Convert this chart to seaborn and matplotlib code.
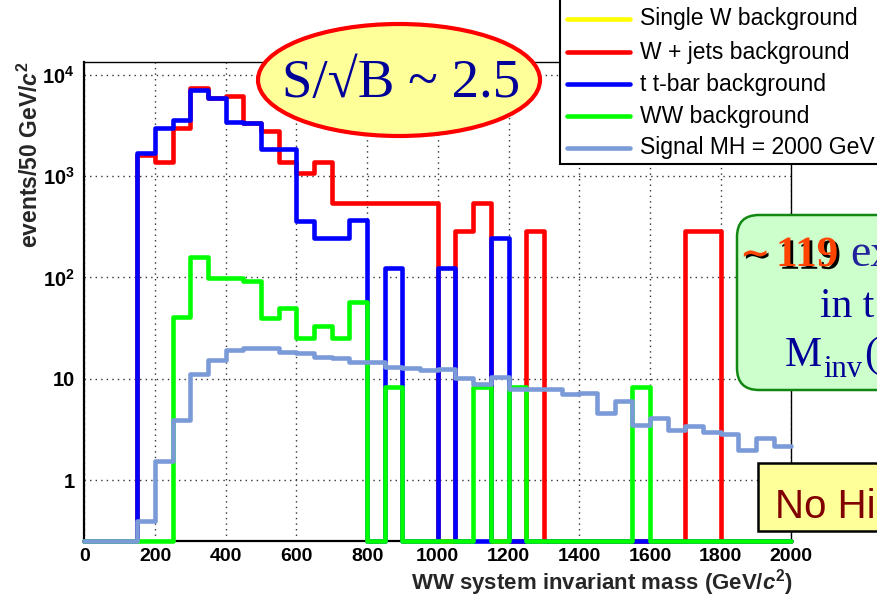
import numpy as np
import pandas as pd
import matplotlib
matplotlib.use("Agg")
import matplotlib.pyplot as plt
import matplotlib.transforms as mtransforms
import matplotlib.patheffects as pe
from matplotlib.patches import Ellipse, FancyBboxPatch, Rectangle
from matplotlib.lines import Line2D
from matplotlib.ticker import FixedLocator, FixedFormatter, NullFormatter
import seaborn as sns

# ---------------- data (events per 50 GeV bin, 0 .. 2000 GeV) ----------------
bin_edges = list(range(0, 2050, 50))

wjets = [0, 0, 0, 1600, 1390, 3000, 7360, 5900, 6170, 3350,
         2810, 1390, 1080, 1390, 547, 547, 547, 547, 547, 547,
         0, 287, 547, 0, 0, 287, 0, 0, 0, 0,
         0, 0, 0, 0, 287, 287, 0, 0, 0, 0]

ttbar = [0, 0, 0, 1680, 3000, 3580, 7080, 5860, 3400, 3320,
         1840, 1840, 360, 243, 243, 369, 0, 123, 0, 0,
         123, 0, 0, 246, 0, 0, 0, 0, 0, 0,
         0, 0, 0, 0, 0, 0, 0, 0, 0, 0]

ww = [0, 0, 0, 0, 0, 40.4, 158, 99.3, 99.3, 92,
      40, 49.5, 25, 33, 25, 57.5, 0, 8.3, 0, 0,
      0, 0, 8.3, 0, 8.3, 0, 0, 0, 0, 0,
      0, 8.3, 0, 0, 0, 0, 0, 0, 0, 0]

signal = [0, 0, 0, 0.39, 1.54, 3.91, 11.1, 15.3, 19.2, 20,
          20, 18.5, 17.8, 16.5, 15.9, 14.5, 14.5, 13.1, 12.7, 12.3,
          12.4, 10.1, 8.9, 10.5, 8.0, 7.9, 7.9, 7.0, 7.3, 4.55,
          6.0, 3.5, 4.1, 3.1, 3.4, 3.0, 2.85, 1.98, 2.58, 2.18]

single_w = [0] * 40

series_names = ["Single W background", "W + jets background", "t t-bar background",
                "WW background", "Signal MH = 2000 GeV"]
series_colors = ["#ffff00", "#ff0000", "#0000ff", "#00ff00", "#7b9bd8"]

x_ticks = [0, 200, 400, 600, 800, 1000, 1200, 1400, 1600, 1800, 2000]
y_ticks = [1, 10, 100, 1000, 10000]
y_tick_labels = ["1", "10", r"$10^{2}$", r"$10^{3}$", r"$10^{4}$"]

YMIN, YMAX = 0.252, 13460

# ---------------- style ----------------
sns.set_style("white")
plt.rcParams["font.family"] = ["Liberation Sans", "DejaVu Sans"]
plt.rcParams["mathtext.fontset"] = "custom"
plt.rcParams["mathtext.rm"] = "Liberation Sans:bold"
plt.rcParams["mathtext.bf"] = "Liberation Sans:bold"
plt.rcParams["mathtext.it"] = "Liberation Sans:italic:bold"

W, H = 877, 605
fig = plt.figure(figsize=(W / 100, H / 100), dpi=100)
fig.patch.set_facecolor("white")


def fx(x):
    return x / W


def fy(y):
    return 1 - y / H


ax = fig.add_axes([fx(84.3), fy(540.7), fx(791.3) - fx(84.3), fy(61.7) - fy(540.7)])
ax.set_facecolor("white")

centers = np.array(bin_edges[:-1]) + 25
frames = []
for name, vals in zip(series_names, [single_w, wjets, ttbar, ww, signal]):
    v = np.asarray(vals, dtype=float)
    frames.append(pd.DataFrame({"mass": centers, "events": v,
                                "plotted": np.where(v > 0, v, YMIN), "sample": name}))
df = pd.concat(frames, ignore_index=True)

for i, (name, color) in enumerate(zip(series_names, series_colors)):
    sub = df[df["sample"] == name]
    if sub["events"].sum() <= 0:
        continue
    sns.histplot(data=sub, x="mass", weights="plotted", bins=bin_edges,
                 element="step", fill=False, color=color, linewidth=3.3,
                 ax=ax, clip_on=False, zorder=3 + i)

ax.set_yscale("log")
ax.set_xlim(0, 2000)
ax.set_ylim(YMIN, YMAX)
ax.set_xlabel("")
ax.set_ylabel("")

ax.xaxis.set_major_locator(FixedLocator(x_ticks))
ax.xaxis.set_minor_locator(FixedLocator(list(range(0, 2001, 50))))
ax.yaxis.set_major_locator(FixedLocator(y_ticks))
ax.yaxis.set_major_formatter(FixedFormatter(y_tick_labels))
minor_y = [m * 10 ** e for e in range(-1, 5) for m in range(2, 10)]
ax.yaxis.set_minor_locator(FixedLocator([t for t in minor_y if YMIN < t < YMAX]))
ax.yaxis.set_minor_formatter(NullFormatter())

ax.tick_params(axis="x", which="major", direction="in", length=9.5, width=1, pad=5,
               labelsize=14, colors="black")
ax.tick_params(axis="x", which="minor", direction="in", length=4.5, width=1)
ax.tick_params(axis="y", which="major", direction="in", length=15.5, width=1, pad=7,
               labelsize=14.5, colors="black")
ax.tick_params(axis="y", which="minor", direction="in", length=8.5, width=1)
for lab in ax.get_xticklabels() + ax.get_yticklabels():
    lab.set_fontweight("bold")

ax.grid(True, which="major", linestyle=(0, (1, 3)), color="#333333", linewidth=1)
ax.set_axisbelow(True)
for s in ax.spines.values():
    s.set_color("black")
    s.set_linewidth(1)
ax.spines["left"].set_linewidth(1.6)
ax.spines["bottom"].set_linewidth(1.6)

# axis titles (ROOT style)
fig.text(fx(793), fy(583), r"WW system invariant mass (GeV/$c^{2}$)", ha="right",
         va="center", fontsize=16, fontweight="bold")
fig.text(fx(30), fy(61), r"events/50 GeV/$c^{2}$", ha="center", va="top",
         rotation=90, fontsize=16.5, fontweight="bold")

# ---------------- legend (cut by figure edge) ----------------
fig.add_artist(Rectangle((fx(560), fy(164)), 0.6, 0.6, transform=fig.transFigure,
                         facecolor="white", edgecolor="black", linewidth=1.5, zorder=20))
leg_y = [19, 52, 84, 116, 148]
for name, color, yy in zip(series_names, series_colors, leg_y):
    fig.add_artist(Line2D([fx(567), fx(630)], [fy(yy), fy(yy)], color=color,
                          linewidth=3.3, transform=fig.transFigure, zorder=21))
    fig.text(fx(640), fy(yy), name, ha="left", va="center", fontsize=16.5,
             color="black", zorder=22)

# ---------------- annotations ----------------
fig.add_artist(Ellipse((fx(399), fy(80)), fx(282), 112 / H, transform=fig.transFigure,
                       facecolor="#ffff99", edgecolor="#ff0000", linewidth=3, zorder=20))
fig.text(fx(401), fy(97), "S/\u221aB ~ 2.5", ha="center", va="baseline",
         fontsize=39.5, color="#000099", family=["Liberation Serif", "DejaVu Serif"],
         zorder=21)

ident = mtransforms.IdentityTransform()
fig.add_artist(FancyBboxPatch((737, H - 390), 200, 175,
                              boxstyle="round,pad=0,rounding_size=22", transform=ident,
                              facecolor="#ccffcc", edgecolor="#118811", linewidth=1.8,
                              zorder=20))
serif = ["Liberation Serif", "DejaVu Serif"]
fig.text(fx(740), fy(265), "\u223c", ha="left", va="baseline", fontsize=26,
         color="#ff4400", fontweight="bold", family=["DejaVu Serif"], zorder=21,
         path_effects=[pe.SimplePatchShadow(offset=(1.5, -1.5), shadow_rgbFace="black",
                                            alpha=1.0), pe.Normal()])
fig.text(fx(776), fy(266), "119", ha="left", va="baseline", fontsize=31,
         color="#ff4400", fontweight="bold", family=serif, zorder=21,
         path_effects=[pe.SimplePatchShadow(offset=(2, -2), shadow_rgbFace="black",
                                            alpha=1.0), pe.Normal()])
fig.text(fx(850), fy(266), "ex", ha="left", va="baseline", fontsize=33,
         color="#22229a", family=serif, zorder=21)
fig.text(fx(820), fy(317), "in t", ha="left", va="baseline", fontsize=30,
         color="#000099", family=serif, zorder=21)
fig.text(fx(785), fy(366), "M", ha="left", va="baseline", fontsize=30,
         color="#000099", family=serif, zorder=21)
fig.text(fx(823), fy(377), "inv", ha="left", va="baseline", fontsize=22,
         color="#000099", family=serif, zorder=21)
fig.text(fx(864), fy(366), "(", ha="left", va="baseline", fontsize=30,
         color="#000099", family=serif, zorder=21)

fig.add_artist(Rectangle((fx(758), fy(531)), 0.3, (531 - 463) / H, transform=fig.transFigure,
                         facecolor="#ffff99", edgecolor="black", linewidth=1.8, zorder=20))
fig.text(fx(775), fy(518), "No Hi", ha="left", va="baseline", fontsize=29,
         color="#800000", zorder=21)

fig.savefig("out.png", dpi=100, facecolor="white")
